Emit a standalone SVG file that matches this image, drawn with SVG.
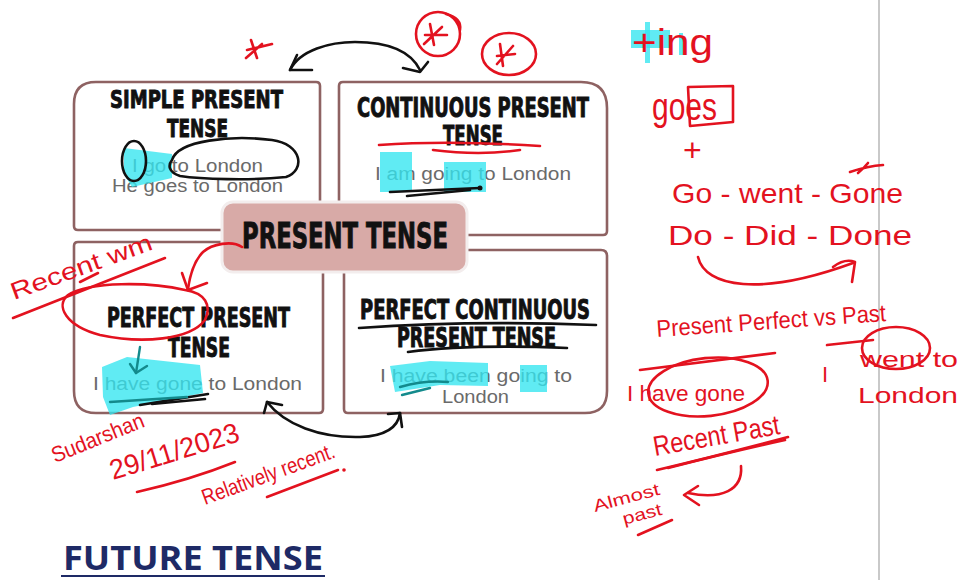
<svg xmlns="http://www.w3.org/2000/svg" width="961" height="580" viewBox="0 0 961 580">
<style>
.box{fill:#fff;stroke:#8e6262;stroke-width:2.6}
.hd{font-family:"Liberation Sans Narrow","DejaVu Sans Condensed","Liberation Sans",sans-serif;font-weight:bold;fill:#111;stroke:#111;stroke-width:0.9}
.ex{font-family:"Liberation Sans","DejaVu Sans",sans-serif;font-size:18px;fill:#6a6a6a}
.hw{font-family:"Liberation Sans","DejaVu Sans",sans-serif;fill:#e3121f}
.rl{fill:none;stroke:#e3121f;stroke-width:2.6;stroke-linecap:round;stroke-linejoin:round}
.bl{fill:none;stroke:#111;stroke-width:2.6;stroke-linecap:round;stroke-linejoin:round}
.tl{fill:none;stroke:#138a8c;stroke-width:2.4;stroke-linecap:round;stroke-linejoin:round}
.hl{fill:#33e6ef;opacity:0.78}
</style>
<rect width="961" height="580" fill="#fff"/>
<line x1="879" y1="0" x2="879" y2="580" stroke="#c9c9c9" stroke-width="2"/>

<g id="box-simple">
<path class="box" d="M74,104 Q74,82 96,82 L316,82 Q320,82 320,86 L320,226 Q320,230 316,230 L78,230 Q74,230 74,226 Z"/>
<text class="hd" x="110" y="108" font-size="25" textLength="173" lengthAdjust="spacingAndGlyphs">SIMPLE PRESENT</text>
<text class="hd" x="167" y="137" font-size="25" textLength="61" lengthAdjust="spacingAndGlyphs">TENSE</text>
<text class="ex" x="132" y="172" textLength="131" lengthAdjust="spacingAndGlyphs">I go to London</text>
<text class="ex" x="112" y="192" textLength="171" lengthAdjust="spacingAndGlyphs">He goes to London</text>
</g>

<g id="box-continuous">
<path class="box" d="M343,82 L581,82 Q607,82 607,108 L607,231 Q607,235 603,235 L343,235 Q339,235 339,231 L339,86 Q339,82 343,82 Z"/>
<text class="hd" x="357" y="117" font-size="26" textLength="232" lengthAdjust="spacingAndGlyphs">CONTINUOUS PRESENT</text>
<text class="hd" x="443" y="145" font-size="26" textLength="60" lengthAdjust="spacingAndGlyphs">TENSE</text>
<text class="ex" x="375" y="180" textLength="196" lengthAdjust="spacingAndGlyphs">I am going to London</text>
</g>

<g id="box-perfect">
<path class="box" d="M78,242 L319,242 Q323,242 323,246 L323,409 Q323,413 319,413 L96,413 Q74,413 74,391 L74,246 Q74,242 78,242 Z"/>
<text class="hd" x="107" y="327" font-size="26" textLength="183" lengthAdjust="spacingAndGlyphs">PERFECT PRESENT</text>
<text class="hd" x="168" y="357" font-size="26" textLength="62" lengthAdjust="spacingAndGlyphs">TENSE</text>
<text class="ex" x="93" y="390" textLength="209" lengthAdjust="spacingAndGlyphs">I have gone to London</text>
</g>

<g id="box-perfect-continuous">
<path class="box" d="M348,250 L601,250 Q607,250 607,256 L607,391 Q607,413 585,413 L348,413 Q344,413 344,409 L344,254 Q344,250 348,250 Z"/>
<text class="hd" x="360" y="319" font-size="26" textLength="230" lengthAdjust="spacingAndGlyphs">PERFECT CONTINUOUS</text>
<text class="hd" x="397" y="347" font-size="26" textLength="159" lengthAdjust="spacingAndGlyphs">PRESENT TENSE</text>
<text class="ex" x="380" y="382" textLength="192" lengthAdjust="spacingAndGlyphs">I have been going to</text>
<text class="ex" x="442" y="403" textLength="67" lengthAdjust="spacingAndGlyphs">London</text>
</g>

<g id="box-center">
<rect x="222" y="202" width="245" height="70" rx="11" fill="#d8aaa7" stroke="#f3eded" stroke-width="3"/>
<text class="hd" x="242" y="248" font-size="35" textLength="206" lengthAdjust="spacingAndGlyphs" stroke-width="1.2">PRESENT TENSE</text>
</g>

<g id="future-title">
<text x="63" y="570" font-family="'Open Sans','Liberation Sans',sans-serif" font-weight="bold" font-size="34" fill="#1e2a66" textLength="260" lengthAdjust="spacingAndGlyphs">FUTURE TENSE</text>
<line x1="61" y1="576" x2="325" y2="576" stroke="#1e2a66" stroke-width="2"/>
</g>

<g id="highlights">
<path class="hl" d="M124,148 L172,154 L172,178 L132,187 L124,174 Z"/>
<rect class="hl" x="380" y="152" width="32" height="40"/>
<rect class="hl" x="444" y="162" width="42" height="30"/>
<path class="hl" d="M102,367 L127,357 L200,365 L203,393 L133,407 L110,415 L103,397 Z"/>
<path class="hl" d="M390,366 L430,361 L488,363 L488,386 L440,385 L395,392 Z"/>
<rect class="hl" x="520" y="365" width="27" height="27"/>
<rect class="hl" x="631" y="30" width="39" height="18"/>
<rect class="hl" x="645" y="22" width="5" height="41"/>
<rect class="hl" x="679" y="33" width="4" height="22"/>
</g>

<g id="connectors">
<path class="bl" d="M290,70 C300,50 330,42 355,42 C385,42 410,50 420,70"/>
<path class="bl" d="M297,55 L290,70 L312,70"/>
<path class="bl" d="M403,68 L420,72 L428,62"/>
<path class="bl" d="M267,402 C285,425 320,438 360,437 C385,436 398,428 400,413"/>
<path class="bl" d="M264,413 L267,402 L282,405"/>
<path class="bl" d="M388,414 L400,413 L402,427"/>
</g>

<g id="ink-black">
<ellipse class="bl" cx="134" cy="161" rx="12" ry="20"/>
<path class="bl" d="M172,160 C178,140 232,135 272,140 C302,144 306,170 286,177 C250,181 200,179 180,176 C168,172 168,165 172,160 Z"/>
<path class="bl" d="M390,192 L480,188"/>
<circle cx="480" cy="188" r="2.5" fill="#111"/>
<path class="bl" d="M407,196 L470,190"/>
<path class="bl" d="M359,328 Q470,320 596,325"/>
<path class="bl" d="M408,352 Q470,344 567,348"/>
<path class="bl" d="M140,405 L208,394"/>
<path class="bl" d="M152,404 L205,399"/>
<path class="tl" d="M110,402 L187,397"/>
<path class="tl" d="M140,347 L136,373"/>
<path class="tl" d="M130,364 L136,373 L147,366"/>
<path class="tl" d="M400,387 Q425,380 448,382"/>
<path class="tl" d="M402,395 L430,388"/>
</g>

<g id="ink-red">
<path class="rl" d="M247,50 L272,44 M251,40 L257,58 M246,58 L262,44"/>
<circle class="rl" cx="438" cy="34" r="22"/>
<path class="rl" d="M446,14 Q462,18 460,30"/>
<path class="rl" d="M425,35 L447,35 M430,24 L434,45 M424,44 L442,27"/>
<ellipse class="rl" cx="509" cy="54" rx="27" ry="21"/>
<path class="rl" d="M497,56 L515,54 M500,44 L503,66 M497,64 L513,46"/>
<path class="rl" d="M379,145 Q450,140 540,146"/>
<path class="rl" d="M433,150 Q480,156 520,150"/>
<path class="rl" d="M185,290 C150,282 90,281 68,295 C55,306 66,326 100,335 C142,344 190,340 205,320 C212,305 205,293 185,290"/>
<path class="rl" d="M242,247 C232,240 212,244 203,252 C195,260 190,275 188,289"/>
<path class="rl" d="M207,283 L188,290 L182,273"/>
<path class="rl" d="M13,318 L165,258"/>
<path class="rl" d="M80,282 L98,273"/>
<path class="rl" d="M137,492 Q190,480 235,462"/>
<path class="rl" d="M267,497 L338,470"/>
<circle cx="344" cy="470" r="1.8" fill="#e3121f"/>
<path class="rl" d="M688,87 L733,86 L733,122 L690,126 Z"/>
<path class="rl" d="M850,172 Q868,166 883,165 M858,173 Q864,168 868,163"/>
<path class="rl" d="M698,257 C705,287 760,297 853,263"/>
<path class="rl" d="M833,267 Q845,258 855,262 L852,282"/>
<path class="rl" d="M640,370 L775,353"/>
<path class="rl" d="M827,345 L873,340"/>
<ellipse class="rl" cx="708" cy="387" rx="60" ry="29" transform="rotate(-6 708 387)"/>
<ellipse class="rl" cx="896" cy="348" rx="34" ry="21"/>
<path class="rl" d="M657,470 Q720,455 788,437"/>
<path class="rl" d="M668,468 Q730,452 785,440"/>
<path class="rl" d="M741,466 C743,490 722,500 688,493"/>
<path class="rl" d="M698,486 L684,495 L699,505"/>
<path class="rl" d="M638,535 L672,520"/>
</g>

<g id="notes-red">
<text class="hw" x="632" y="55" font-size="36" textLength="81" lengthAdjust="spacingAndGlyphs">+ing</text>
<text class="hw" x="652" y="120" font-size="38" textLength="65" lengthAdjust="spacingAndGlyphs">goes</text>
<text class="hw" x="683" y="161" font-size="32">+</text>
<text class="hw" x="672" y="203" font-size="28" textLength="231" lengthAdjust="spacingAndGlyphs">Go - went - Gone</text>
<text class="hw" x="668" y="245" font-size="28" textLength="244" lengthAdjust="spacingAndGlyphs">Do - Did - Done</text>
<text class="hw" x="657" y="337" font-size="24" textLength="230" lengthAdjust="spacingAndGlyphs" transform="rotate(-4 657 337)">Present Perfect vs Past</text>
<text class="hw" x="627" y="401" font-size="22" textLength="118" lengthAdjust="spacingAndGlyphs">I have gone</text>
<text class="hw" font-size="22"><tspan x="822" y="382">I</tspan><tspan x="860" y="367" textLength="98" lengthAdjust="spacingAndGlyphs">went to</tspan><tspan x="858" y="403" textLength="100" lengthAdjust="spacingAndGlyphs">London</tspan></text>
<text class="hw" x="655" y="456" font-size="28" textLength="128" lengthAdjust="spacingAndGlyphs" transform="rotate(-10 655 456)">Recent Past</text>
<text class="hw" font-size="17" transform="rotate(-15 595 512)"><tspan x="595" y="512" textLength="68" lengthAdjust="spacingAndGlyphs">Almost</tspan><tspan x="620" y="532" textLength="40" lengthAdjust="spacingAndGlyphs">past</tspan></text>
<text class="hw" x="14" y="300" font-size="24" textLength="149" lengthAdjust="spacingAndGlyphs" transform="rotate(-20 14 300)">Recent wm</text>
<text class="hw" x="55" y="463" font-size="22" textLength="98" lengthAdjust="spacingAndGlyphs" transform="rotate(-22 55 463)">Sudarshan</text>
<text class="hw" x="113" y="480" font-size="28" textLength="134" lengthAdjust="spacingAndGlyphs" transform="rotate(-17 113 480)">29/11/2023</text>
<text class="hw" x="205" y="505" font-size="22" textLength="140" lengthAdjust="spacingAndGlyphs" transform="rotate(-20 205 505)">Relatively recent.</text>
</g>
</svg>
